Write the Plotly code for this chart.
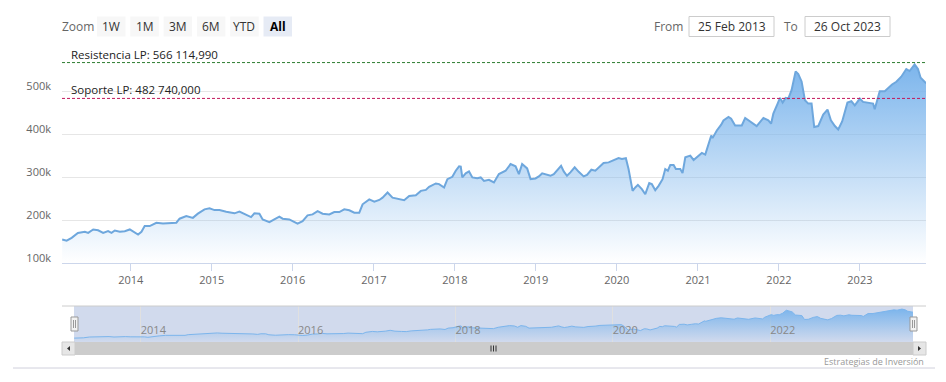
import plotly.graph_objects as go
import pandas as pd

# ---------------- data ----------------
dec_years = [
    2013.153, 2013.208, 2013.270, 2013.347, 2013.433, 2013.474, 2013.536, 2013.597, 2013.659, 2013.720,
    2013.762, 2013.803, 2013.865, 2013.926, 2013.988, 2014.049, 2014.090, 2014.132, 2014.172, 2014.234,
    2014.316, 2014.398, 2014.480, 2014.563, 2014.603, 2014.686, 2014.767, 2014.829, 2014.911, 2014.973,
    2015.034, 2015.096, 2015.179, 2015.281, 2015.342, 2015.425, 2015.486, 2015.527, 2015.589, 2015.629,
    2015.712, 2015.773, 2015.835, 2015.876, 2015.958, 2015.999, 2016.060, 2016.122, 2016.183, 2016.245,
    2016.307, 2016.368, 2016.451, 2016.512, 2016.574, 2016.635, 2016.697, 2016.759, 2016.820, 2016.861,
    2016.943, 2017.005, 2017.067, 2017.107, 2017.169, 2017.230, 2017.313, 2017.374, 2017.436, 2017.518,
    2017.580, 2017.642, 2017.682, 2017.765, 2017.805, 2017.867, 2017.908, 2017.969, 2018.011, 2018.052,
    2018.073, 2018.092, 2018.134, 2018.175, 2018.216, 2018.277, 2018.319, 2018.360, 2018.421, 2018.483,
    2018.544, 2018.627, 2018.688, 2018.750, 2018.791, 2018.831, 2018.893, 2018.935, 2018.996, 2019.037,
    2019.078, 2019.139, 2019.181, 2019.222, 2019.283, 2019.312, 2019.345, 2019.385, 2019.427, 2019.480,
    2019.530, 2019.591, 2019.632, 2019.686, 2019.735, 2019.776, 2019.837, 2019.899, 2019.961, 2020.022,
    2020.063, 2020.112, 2020.145, 2020.195, 2020.228, 2020.260, 2020.309, 2020.351, 2020.400, 2020.432,
    2020.474, 2020.515, 2020.564, 2020.597, 2020.629, 2020.659, 2020.700, 2020.728, 2020.782, 2020.810,
    2020.844, 2020.905, 2020.946, 2020.999, 2021.048, 2021.090, 2021.131, 2021.164, 2021.180, 2021.233,
    2021.287, 2021.315, 2021.377, 2021.410, 2021.459, 2021.541, 2021.583, 2021.644, 2021.725, 2021.808,
    2021.869, 2021.903, 2021.931, 2021.984, 2022.013, 2022.046, 2022.083, 2022.116, 2022.156, 2022.206,
    2022.239, 2022.280, 2022.321, 2022.362, 2022.403, 2022.436, 2022.485, 2022.547, 2022.600, 2022.642,
    2022.691, 2022.732, 2022.781, 2022.846, 2022.895, 2022.937, 2022.978, 2022.999, 2023.039, 2023.101,
    2023.163, 2023.183, 2023.245, 2023.307, 2023.347, 2023.397, 2023.450, 2023.511, 2023.573, 2023.614,
    2023.676, 2023.717, 2023.750, 2023.818,
]
values_k = [
    154.6, 152.0, 158.5, 170.0, 172.6, 170.0, 178.0, 176.0, 170.0, 174.0,
    170.0, 175.6, 172.6, 174.0, 178.0, 171.7, 166.0, 172.6, 185.8, 185.8,
    193.6, 192.0, 193.6, 193.6, 203.0, 209.0, 205.0, 214.7, 224.8, 227.0,
    223.0, 223.0, 219.4, 215.5, 219.4, 213.0, 206.8, 215.5, 214.7, 201.4,
    195.0, 201.4, 207.7, 203.0, 201.4, 197.4, 191.3, 197.4, 210.8, 213.0,
    220.8, 214.7, 213.0, 218.5, 218.5, 224.8, 222.5, 217.0, 217.0, 236.5,
    248.0, 242.8, 246.6, 252.0, 264.0, 252.0, 248.0, 245.9, 256.0, 257.6,
    267.7, 270.0, 277.0, 285.0, 283.4, 275.6, 295.0, 300.5, 314.5, 324.8,
    324.0, 299.0, 308.4, 313.0, 299.0, 297.4, 299.0, 291.0, 293.5, 287.4,
    306.8, 314.5, 330.0, 324.8, 306.8, 330.0, 320.0, 295.0, 296.7, 301.4,
    308.4, 305.0, 302.8, 306.8, 320.0, 326.0, 313.0, 302.8, 310.8, 322.5,
    312.0, 301.4, 305.0, 316.9, 314.5, 322.5, 332.6, 334.0, 340.0, 344.0,
    342.0, 343.6, 318.5, 267.7, 275.6, 281.7, 271.7, 260.0, 285.7, 283.4,
    269.3, 279.4, 295.0, 318.5, 314.5, 327.9, 327.9, 318.5, 318.5, 309.0,
    345.9, 349.7, 339.6, 348.3, 356.0, 352.0, 374.7, 396.5, 390.4, 408.2,
    421.6, 431.6, 439.6, 435.6, 420.0, 420.0, 437.2, 429.3, 418.5, 437.2,
    431.6, 423.9, 447.3, 470.7, 484.0, 473.0, 484.0, 482.4, 501.9, 545.6,
    539.3, 522.2, 478.5, 470.7, 470.7, 416.2, 418.5, 445.0, 456.7, 431.6,
    418.5, 410.6, 429.3, 473.0, 476.1, 466.7, 476.1, 482.4, 474.7, 473.0,
    470.7, 457.4, 499.5, 499.5, 507.5, 515.2, 521.5, 533.3, 551.0, 546.4,
    562.0, 551.0, 530.9, 517.6,
]
year_ticks = [2014, 2015, 2016, 2017, 2018, 2019, 2020, 2021, 2022, 2023]
nav_year_ticks = [2014, 2016, 2018, 2020, 2022]
y_ticks_k = [100, 200, 300, 400, 500, 600]
y_tick_text = ["100k", "200k", "300k", "400k", "500k", ""]
resistance_k = 566.11499
support_k = 482.740
resistance_label = "Resistencia LP: 566 114,990"
support_label = "Soporte LP: 482 740,000"
zoom_buttons = ["1W", "1M", "3M", "6M", "YTD", "All"]
date_from = "25 Feb 2013"
date_to = "26 Oct 2023"
start_date = "2013-02-25"
end_date = "2023-10-26"
credits = "Estrategias de Inversión"


def to_date(t):
    y = int(t)
    s = pd.Timestamp(y, 1, 1)
    e = pd.Timestamp(y + 1, 1, 1)
    return s + (e - s) * (t - y)


dates = [to_date(t) for t in dec_years]

W, H = 946, 382
FONT = "Open Sans"


def px(x):
    return x / W


def py(y):
    return 1 - y / H


LINE = "#7cb5ec"
grad = dict(type="vertical", start=100, stop=max(values_k),
            colorscale=[[0, "rgba(124,181,236,0)"], [1, "rgba(124,181,236,1)"]])

fig = go.Figure()
fig.add_trace(go.Scatter(x=dates, y=values_k, mode="lines", line=dict(color="#6ea7dd", width=2),
                         fill="tozeroy", fillgradient=grad, xaxis="x", yaxis="y",
                         hoverinfo="skip", showlegend=False))
fig.add_trace(go.Scatter(x=dates, y=values_k, mode="lines", line=dict(color=LINE, width=1),
                         fill="tozeroy", fillgradient=grad, xaxis="x2", yaxis="y2",
                         hoverinfo="skip", showlegend=False))

shapes = []
annotations = []

# plot lines
for val, col, lab in [(resistance_k, "#2e7d32", resistance_label), (support_k, "#c2185b", support_label)]:
    shapes.append(dict(type="line", xref="x domain", yref="y", x0=0, x1=1, y0=val, y1=val,
                       line=dict(color=col, width=1, dash="3px,2px"), layer="above"))
    annotations.append(dict(xref="paper", yref="y", x=px(69), y=val, xanchor="left", yanchor="bottom",
                            yshift=-1, text=lab, showarrow=False,
                            font=dict(family=FONT, size=11.5, color="#222")))

# range selector
annotations.append(dict(xref="paper", yref="paper", x=px(60), y=py(26.5), xanchor="left", yanchor="middle",
                        text="Zoom", showarrow=False, font=dict(family=FONT, size=12, color="#666")))
for i, b in enumerate(zoom_buttons):
    x0 = 97 + 33.3 * i
    sel = (b == "All")
    shapes.append(dict(type="rect", xref="paper", yref="paper", x0=px(x0), x1=px(x0 + 28.5),
                       y0=py(36.5), y1=py(16.5), fillcolor="#e6ebf5" if sel else "#f7f7f7",
                       line=dict(width=0)))
    annotations.append(dict(xref="paper", yref="paper", x=px(x0 + 14.25), y=py(26.5), xanchor="center",
                            yanchor="middle", text=f"<b>{b}</b>" if sel else b, showarrow=False,
                            font=dict(family=FONT, size=12, color="#000" if sel else "#333")))

# from / to boxes
annotations.append(dict(xref="paper", yref="paper", x=px(685), y=py(26.5), xanchor="right", yanchor="middle",
                        text="From", showarrow=False, font=dict(family=FONT, size=12, color="#666")))
annotations.append(dict(xref="paper", yref="paper", x=px(800), y=py(26.5), xanchor="right", yanchor="middle",
                        text="To", showarrow=False, font=dict(family=FONT, size=12, color="#666")))
for (x0, x1, txt) in [(689, 774, date_from), (805, 890, date_to)]:
    shapes.append(dict(type="rect", xref="paper", yref="paper", x0=px(x0), x1=px(x1), y0=py(36.5), y1=py(16.5),
                       fillcolor="white", line=dict(color="#cccccc", width=1)))
    annotations.append(dict(xref="paper", yref="paper", x=px((x0 + x1) / 2), y=py(26.5), xanchor="center",
                            yanchor="middle", text=txt, showarrow=False,
                            font=dict(family=FONT, size=12, color="#333")))

# navigator mask and outline
shapes.append(dict(type="rect", xref="paper", yref="paper", x0=px(74), x1=px(913), y0=py(342), y1=py(306),
                   fillcolor="rgba(102,133,194,0.3)", line=dict(width=0), layer="below"))
shapes.append(dict(type="line", xref="paper", yref="paper", x0=px(62), x1=px(926), y0=py(306), y1=py(306),
                   line=dict(color="#cccccc", width=1)))
# handles
for hx in [74.5, 913.5]:
    shapes.append(dict(type="rect", xref="paper", yref="paper", x0=px(hx - 3.5), x1=px(hx + 3.5),
                       y0=py(331), y1=py(317), fillcolor="#f2f2f2", line=dict(color="#999999", width=1),
                       layer="above"))
    for dx in [-1, 1]:
        shapes.append(dict(type="line", xref="paper", yref="paper", x0=px(hx + dx), x1=px(hx + dx),
                           y0=py(328), y1=py(320), line=dict(color="#999999", width=1), layer="above"))

# scrollbar
shapes.append(dict(type="rect", xref="paper", yref="paper", x0=px(62), x1=px(926), y0=py(355), y1=py(342),
                   fillcolor="#f2f2f2", line=dict(width=0)))
shapes.append(dict(type="rect", xref="paper", yref="paper", x0=px(75), x1=px(913), y0=py(355), y1=py(342),
                   fillcolor="#cccccc", line=dict(width=0)))
for bx0 in [62, 913]:
    shapes.append(dict(type="rect", xref="paper", yref="paper", x0=px(bx0), x1=px(bx0 + 13), y0=py(355),
                       y1=py(342), fillcolor="#e6e6e6", line=dict(color="#cccccc", width=1)))
shapes.append(dict(type="path", xref="paper", yref="paper",
                   path=f"M {px(70)} {py(346)} L {px(70)} {py(351)} L {px(67)} {py(348.5)} Z",
                   fillcolor="#333333", line=dict(width=0)))
shapes.append(dict(type="path", xref="paper", yref="paper",
                   path=f"M {px(918)} {py(346)} L {px(918)} {py(351)} L {px(921)} {py(348.5)} Z",
                   fillcolor="#333333", line=dict(width=0)))
for rx in [491, 493.5, 496]:
    shapes.append(dict(type="line", xref="paper", yref="paper", x0=px(rx), x1=px(rx), y0=py(351.5), y1=py(345.5),
                       line=dict(color="#333333", width=1)))

# bottom line + credits
shapes.append(dict(type="line", xref="paper", yref="paper", x0=px(13), x1=px(935), y0=py(368), y1=py(368),
                   line=dict(color="#d0d0dc", width=1)))
annotations.append(dict(xref="paper", yref="paper", x=px(926), y=py(361), xanchor="right", yanchor="middle",
                        text=credits, showarrow=False, font=dict(family=FONT, size=9, color="#999")))

fig.update_layout(
    width=W, height=H,
    margin=dict(l=0, r=0, t=0, b=0, autoexpand=False),
    paper_bgcolor="white", plot_bgcolor="rgba(0,0,0,0)",
    font=dict(family=FONT, size=11, color="#666"),
    showlegend=False,
    shapes=shapes, annotations=annotations,
    xaxis=dict(domain=[px(62), px(926)], anchor="y", type="date", range=[start_date, end_date],
               tickvals=[f"{y}-01-01" for y in year_ticks], ticktext=[str(y) for y in year_ticks],
               ticks="outside", ticklen=7, tickcolor="#ccd6eb", showline=True, linecolor="#ccd6eb",
               showgrid=False, zeroline=False, tickfont=dict(family=FONT, size=11, color="#666")),
    yaxis=dict(domain=[py(263), py(48)], anchor="x", range=[100, 600], tickvals=y_ticks_k,
               ticktext=y_tick_text, showgrid=True, gridcolor="#e6e6e6", zeroline=False, showline=False,
               ticks="", ticklabelshift=-5, ticklabelstandoff=10,
               tickfont=dict(family=FONT, size=11, color="#666")),
    xaxis2=dict(domain=[px(74), px(913)], anchor="y2", type="date", range=[start_date, end_date],
                tickvals=[f"{y}-01-01" for y in nav_year_ticks], ticktext=[str(y) for y in nav_year_ticks],
                ticks="", ticklabelposition="inside right", showgrid=True, gridcolor="#e0e0e0",
                zeroline=False, showline=False, tickfont=dict(family=FONT, size=11, color="#888")),
    yaxis2=dict(domain=[py(342), py(306)], anchor="x2", range=[100, 605], visible=False, showgrid=False),
)

fig.write_html("out.html", config={"displayModeBar": False},
               post_script="document.body.style.margin='0px';document.body.style.overflow='hidden';")
